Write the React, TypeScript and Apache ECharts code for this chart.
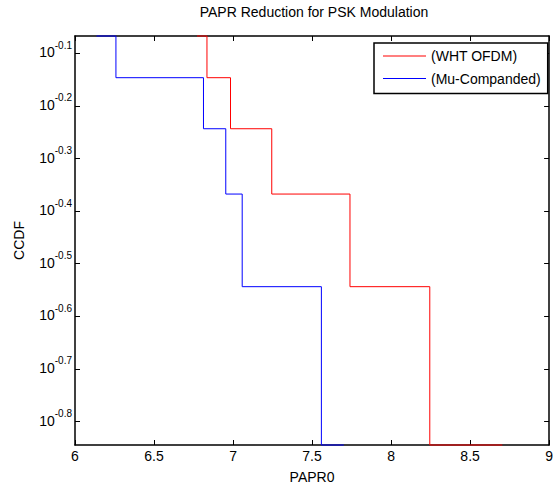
import React, { useEffect, useRef } from 'react';
import * as echarts from 'echarts';

const ccdfLevels = [0.857, 0.714, 0.571, 0.429, 0.286, 0.143, 0.143];
const whtX = [6.772, 6.835, 6.984, 7.245, 7.74, 8.245, 8.704];
const muX = [6.136, 6.259, 6.813, 6.954, 7.058, 7.559, 7.701];
const xTicks = [6, 6.5, 7, 7.5, 8, 8.5, 9];
const yTickExponents = [-0.8, -0.7, -0.6, -0.5, -0.4, -0.3, -0.2, -0.1];
const seriesNames = ['(WHT OFDM)', '(Mu-Companded)'];
const seriesColors = ['#ff0000', '#0000ff'];

const FONT = 'Liberation Sans, Arial, Helvetica, sans-serif';

export default function App() {
  const ref = useRef<HTMLDivElement>(null);
  useEffect(() => {
    if (!ref.current) return;
    const chart = echarts.init(ref.current, null, { renderer: 'svg' });
    const yMin = Math.log10(Math.min(...ccdfLevels));
    const yMax = Math.log10(Math.max(...ccdfLevels));
    const xMin = xTicks[0];
    const xMax = xTicks[xTicks.length - 1];
    const xInterval = xTicks[1] - xTicks[0];
    const axisLine = { show: true, onZero: false, lineStyle: { color: '#000', width: 1.5 } };
    const tickStyle = { inside: true, length: 5, lineStyle: { color: '#000', width: 1 } };
    const toData = (xs: number[]) => xs.map((x, i) => [x, Math.log10(ccdfLevels[i])]);

    chart.setOption({
      animation: false,
      backgroundColor: '#fff',
      textStyle: { fontFamily: FONT },
      grid: { left: 75, right: 3, top: 36, bottom: 40, containLabel: false },
      graphic: [
        {
          type: 'text',
          x: 314,
          y: 5,
          style: {
            text: 'PAPR Reduction for PSK Modulation',
            font: `14px ${FONT}`,
            fill: '#000',
            textAlign: 'center',
            textVerticalAlign: 'top',
          },
        },
      ],
      legend: {
        orient: 'vertical',
        left: 374,
        top: 43,
        data: seriesNames,
        icon: 'path://M0,0H44V1H0Z',
        symbolKeepAspect: true,
        backgroundColor: '#fff',
        borderColor: '#000',
        borderWidth: 1.5,
        borderRadius: 0,
        padding: [6, 7, 8, 9],
        itemWidth: 43,
        itemHeight: 14,
        itemGap: 8.6,
        textStyle: { fontSize: 14, color: '#000', fontFamily: FONT },
      },
      xAxis: [
        {
          type: 'value',
          min: xMin,
          max: xMax,
          interval: xInterval,
          position: 'bottom',
          name: 'PAPR0',
          nameLocation: 'middle',
          nameGap: 25,
          nameTextStyle: { fontSize: 14, color: '#000', fontFamily: FONT },
          axisLine,
          axisTick: tickStyle,
          splitLine: { show: false },
          axisLabel: {
            margin: 4,
            fontSize: 14,
            color: '#000',
            fontFamily: FONT,
            formatter: (v: number) => String(v),
          },
        },
        {
          type: 'value',
          min: xMin,
          max: xMax,
          interval: xInterval,
          position: 'top',
          axisLine,
          axisTick: tickStyle,
          splitLine: { show: false },
          axisLabel: { show: false },
        },
      ],
      yAxis: [
        {
          type: 'value',
          min: yMin,
          max: yMax,
          position: 'left',
          name: 'CCDF',
          nameLocation: 'middle',
          nameGap: 49,
          nameTextStyle: { fontSize: 14, color: '#000', fontFamily: FONT },
          axisLine,
          axisTick: { ...tickStyle, customValues: yTickExponents },
          splitLine: { show: false },
          axisLabel: {
            customValues: yTickExponents,
            margin: 3,
            formatter: (v: number) => `{a|10}{b|${v.toFixed(1)}}`,
            rich: {
              a: {
                fontSize: 14,
                lineHeight: 14,
                color: '#000',
                fontFamily: FONT,
                verticalAlign: 'bottom',
                padding: [0, 0, 1, 0],
              },
              b: {
                fontSize: 10,
                lineHeight: 10,
                color: '#000',
                fontFamily: FONT,
                verticalAlign: 'bottom',
                padding: [0, 0, 10, 0],
              },
            },
          },
        },
        {
          type: 'value',
          min: yMin,
          max: yMax,
          position: 'right',
          axisLine,
          axisTick: { ...tickStyle, customValues: yTickExponents },
          splitLine: { show: false },
          axisLabel: { show: false },
        },
      ],
      series: [
        {
          name: seriesNames[0],
          type: 'line',
          step: 'end',
          data: toData(whtX),
          symbol: 'none',
          clip: false,
          color: seriesColors[0],
          lineStyle: { color: seriesColors[0], width: 1 },
          z: 5,
        },
        {
          name: seriesNames[1],
          type: 'line',
          step: 'end',
          data: toData(muX),
          symbol: 'none',
          clip: false,
          color: seriesColors[1],
          lineStyle: { color: seriesColors[1], width: 1 },
          z: 5,
        },
      ],
    });
    return () => chart.dispose();
  }, []);

  return (
    <div
      ref={ref}
      style={{ position: 'absolute', left: 0, top: 0, width: 556, height: 489 }}
    />
  );
}
